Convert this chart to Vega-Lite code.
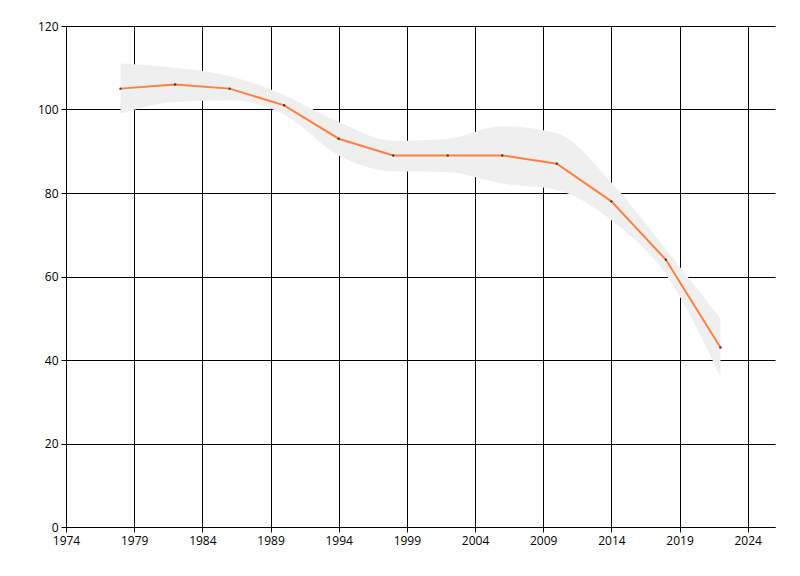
{
  "$schema": "https://vega.github.io/schema/vega-lite/v6.json",
  "width": 709,
  "height": 501,
  "autosize": "none",
  "padding": {"left": 66, "top": 26, "right": 25, "bottom": 49},
  "background": "#ffffff",
  "config": {
    "view": {"stroke": null},
    "axis": {
      "labelFont": "Open Sans",
      "labelFontSize": 12,
      "labelColor": "#000000",
      "labelFlush": false,
      "labelOverlap": false,
      "domainColor": "#000000",
      "tickColor": "#000000",
      "gridColor": "#000000",
      "gridOpacity": 1,
      "gridWidth": 1,
      "tickSize": 5,
      "title": null
    }
  },
  "data": {
    "values": [
      {"year": 1978, "value": 105, "lower": 99, "upper": 111},
      {"year": 1982, "value": 106, "lower": 101.8, "upper": 110},
      {"year": 1986, "value": 105, "lower": 102.2, "upper": 108},
      {"year": 1990, "value": 101, "lower": 98.8, "upper": 103.5},
      {"year": 1994, "value": 93, "lower": 89, "upper": 97},
      {"year": 1998, "value": 89, "lower": 85.2, "upper": 92.5},
      {"year": 2002, "value": 89, "lower": 85, "upper": 93},
      {"year": 2006, "value": 89, "lower": 82.3, "upper": 96},
      {"year": 2010, "value": 87, "lower": 80.7, "upper": 94.3},
      {"year": 2014, "value": 78, "lower": 73.5, "upper": 82.5},
      {"year": 2018, "value": 64, "lower": 60.5, "upper": 66.5},
      {"year": 2022, "value": 43, "lower": 36, "upper": 50}
    ]
  },
  "encoding": {
    "x": {
      "field": "year",
      "type": "quantitative",
      "scale": {"domain": [1974, 2026], "nice": false, "zero": false},
      "axis": {
        "values": [1974, 1979, 1984, 1989, 1994, 1999, 2004, 2009, 2014, 2019, 2024],
        "format": "d",
        "labelPadding": 3
      }
    }
  },
  "layer": [
    {
      "mark": {"type": "area", "interpolate": "monotone", "color": "#efefef"},
      "encoding": {
        "y": {
          "field": "lower",
          "type": "quantitative",
          "scale": {"domain": [0, 120], "nice": false},
          "axis": {"values": [0, 20, 40, 60, 80, 100, 120], "labelPadding": 3}
        },
        "y2": {"field": "upper"}
      }
    },
    {
      "mark": {"type": "line", "color": "#ff7f40", "strokeWidth": 2},
      "encoding": {"y": {"field": "value", "type": "quantitative"}}
    },
    {
      "mark": {"type": "point", "filled": true, "color": "#444444", "size": 6, "opacity": 1},
      "encoding": {"y": {"field": "value", "type": "quantitative"}}
    }
  ]
}
